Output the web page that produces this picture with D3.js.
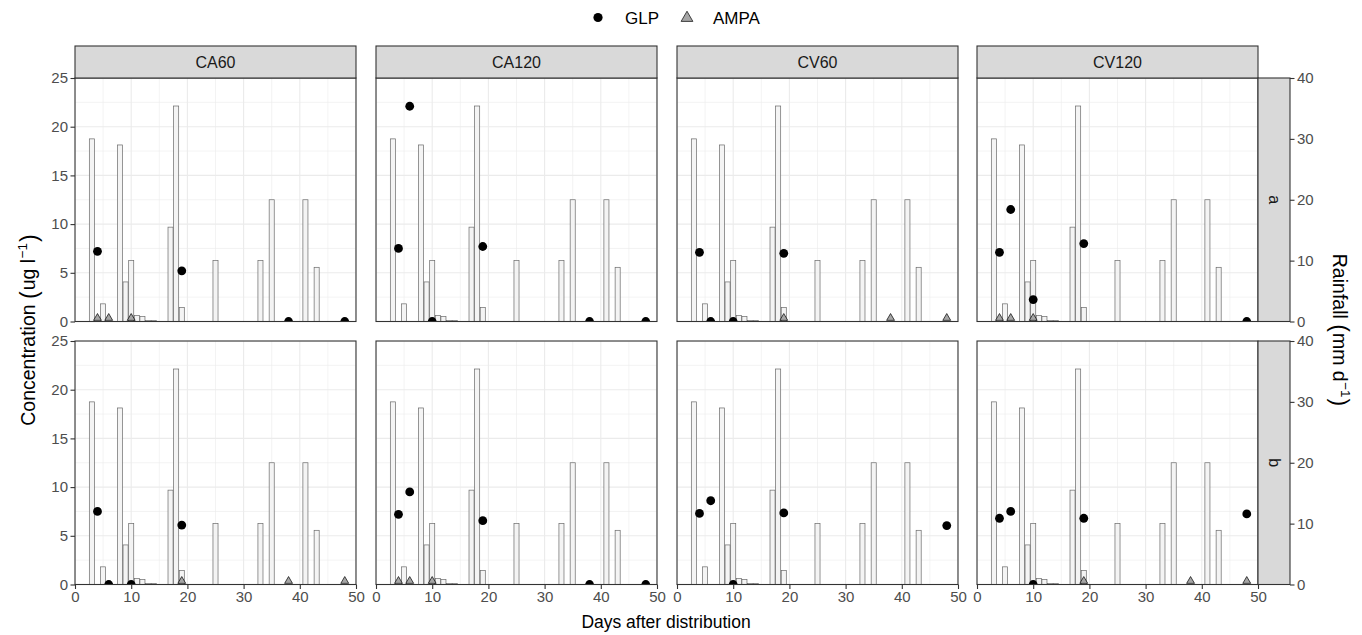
<!DOCTYPE html>
<html>
<head>
<meta charset="utf-8">
<script src="https://cdn.jsdelivr.net/npm/d3@7"></script>
<style>
  body { margin: 0; background: #fff; }
  svg { display: block; font-family: "Liberation Sans", Arial, Helvetica, sans-serif; }
</style>
</head>
<body>
<svg id="chart" width="1362" height="635"></svg>
<script>
// ---------- DATA ----------
const treatments = ["CA60", "CA120", "CV60", "CV120"];
const reps = ["a", "b"];
const xTicks = [0, 10, 20, 30, 40, 50];
const concTicks = [0, 5, 10, 15, 20, 25];
const rainTicks = [0, 10, 20, 30, 40];

// Daily rainfall (mm/d), same for every panel
const rainDays = [3, 5, 8, 9, 10, 11, 12, 13, 14, 17, 18, 19, 25, 33, 35, 41, 43];
const rainMm   = [30, 2.9, 29, 6.5, 10, 1.0, 0.8, 0.15, 0.15, 15.5, 35.4, 2.3, 10, 10, 20, 20, 8.9];

// Sampling days
const sampleDays = [4, 6, 10, 19, 38, 48];

// GLP concentration (ug/l), per treatment, row a
const glp_a_CA60  = [7.2, null, null, 5.2, 0, 0];
const glp_a_CA120 = [7.5, 22.1, 0, 7.7, 0, 0];
const glp_a_CV60  = [7.1, 0, 0, 7.0, null, null];
const glp_a_CV120 = [7.1, 11.5, 2.25, 8.0, null, 0];
// row b
const glp_b_CA60  = [7.5, 0, 0, 6.1, null, null];
const glp_b_CA120 = [7.2, 9.5, null, 6.55, 0, 0];
const glp_b_CV60  = [7.3, 8.6, 0, 7.35, null, 6.05];
const glp_b_CV120 = [6.8, 7.5, 0, 6.8, null, 7.25];

// AMPA concentration (ug/l)
const ampa_a_CA60  = [0.35, 0.35, 0.35, null, null, null];
const ampa_a_CA120 = [null, null, null, null, null, null];
const ampa_a_CV60  = [null, null, null, 0.35, 0.35, 0.35];
const ampa_a_CV120 = [0.35, 0.35, 0.35, null, null, null];
const ampa_b_CA60  = [null, null, null, 0.35, 0.35, 0.35];
const ampa_b_CA120 = [0.35, 0.35, 0.35, null, null, null];
const ampa_b_CV60  = [null, null, null, null, null, null];
const ampa_b_CV120 = [null, null, null, 0.35, 0.35, 0.35];

const glpSeries = {
  a: [glp_a_CA60, glp_a_CA120, glp_a_CV60, glp_a_CV120],
  b: [glp_b_CA60, glp_b_CA120, glp_b_CV60, glp_b_CV120]
};
const ampaSeries = {
  a: [ampa_a_CA60, ampa_a_CA120, ampa_a_CV60, ampa_a_CV120],
  b: [ampa_b_CA60, ampa_b_CA120, ampa_b_CV60, ampa_b_CV120]
};

// ---------- LAYOUT ----------
const svg = d3.select("#chart");
const panelLefts = [75, 376, 677, 977];
const panelW = 281;
const rowTops = [78, 341];
const panelH = 243.5;
const stripTop = 46, stripH = 32;
const rStripX = 1258, rStripW = 32;

const x = d3.scaleLinear().domain([0, 50]).range([0, panelW]);
const yC = d3.scaleLinear().domain([0, 25]).range([panelH, 0]);
const yR = d3.scaleLinear().domain([0, 40]).range([panelH, 0]);

const textCol = "#4d4d4d";
const tickCol = "#333333";
const tickFont = 15;

const defs = svg.append("defs");
defs.append("clipPath").attr("id", "pclip")
  .append("rect").attr("x", 0).attr("y", 0).attr("width", panelW).attr("height", panelH);

const triPath = d3.symbol(d3.symbolTriangle, 27)();
const triLegend = d3.symbol(d3.symbolTriangle, 60)();

function styleAxis(ax) {
  ax.select(".domain").remove();
  ax.selectAll("line").attr("stroke", tickCol).attr("stroke-width", 1.1);
  ax.selectAll("text").attr("font-size", tickFont).attr("fill", textCol)
    .attr("font-family", "Liberation Sans, Arial, sans-serif");
}

reps.forEach((rep, ri) => {
  treatments.forEach((tr, ti) => {
    const g = svg.append("g").attr("transform", `translate(${panelLefts[ti]},${rowTops[ri]})`);
    g.append("rect").attr("width", panelW).attr("height", panelH).attr("fill", "#fff");
    const inner = g.append("g").attr("clip-path", "url(#pclip)");
    const minorX = d3.range(5, 50, 10);
    const minorY = d3.range(2.5, 25, 5);
    inner.selectAll(".mx").data(minorX).join("line")
      .attr("x1", d => x(d)).attr("x2", d => x(d)).attr("y1", 0).attr("y2", panelH)
      .attr("stroke", "#ebebeb").attr("stroke-width", 0.6);
    inner.selectAll(".my").data(minorY).join("line")
      .attr("y1", d => yC(d)).attr("y2", d => yC(d)).attr("x1", 0).attr("x2", panelW)
      .attr("stroke", "#ebebeb").attr("stroke-width", 0.6);
    inner.selectAll(".Mx").data(xTicks).join("line")
      .attr("x1", d => x(d)).attr("x2", d => x(d)).attr("y1", 0).attr("y2", panelH)
      .attr("stroke", "#ebebeb").attr("stroke-width", 1.1);
    inner.selectAll(".My").data(concTicks).join("line")
      .attr("y1", d => yC(d)).attr("y2", d => yC(d)).attr("x1", 0).attr("x2", panelW)
      .attr("stroke", "#ebebeb").attr("stroke-width", 1.1);
    // rainfall bars
    const bw = x(0.9) - x(0);
    inner.selectAll(".bar").data(rainDays.map((d, i) => ({ d, v: rainMm[i] }))).join("rect")
      .attr("x", p => x(p.d) - bw / 2).attr("width", bw)
      .attr("y", p => yR(p.v)).attr("height", p => yR(0) - yR(p.v))
      .attr("fill", "#f2f2f2").attr("fill-opacity", 0.85)
      .attr("stroke", "#6a6a6a").attr("stroke-width", 0.7);
    // GLP points
    const glp = glpSeries[rep][ti].map((v, i) => ({ d: sampleDays[i], v })).filter(p => p.v !== null);
    inner.selectAll(".glp").data(glp).join("circle")
      .attr("cx", p => x(p.d)).attr("cy", p => yC(p.v)).attr("r", 4.4)
      .attr("fill", "#000");
    // AMPA points
    const ampa = ampaSeries[rep][ti].map((v, i) => ({ d: sampleDays[i], v })).filter(p => p.v !== null);
    inner.selectAll(".ampa").data(ampa).join("path")
      .attr("d", triPath)
      .attr("transform", p => `translate(${x(p.d)},${yC(p.v)})`)
      .attr("fill", "#a6a6a6").attr("stroke", "#000").attr("stroke-width", 0.7);
    g.append("rect").attr("width", panelW).attr("height", panelH)
      .attr("fill", "none").attr("stroke", tickCol).attr("stroke-width", 1.1);

    if (ri === 0) {
      const s = svg.append("g").attr("transform", `translate(${panelLefts[ti]},${stripTop})`);
      s.append("rect").attr("width", panelW).attr("height", stripH)
        .attr("fill", "#d9d9d9").attr("stroke", tickCol).attr("stroke-width", 1.1);
      s.append("text").attr("x", panelW / 2).attr("y", stripH / 2 + 5.5)
        .attr("text-anchor", "middle").attr("font-size", 16).attr("fill", "#1a1a1a").text(tr);
    }
    if (ti === 0) {
      const ax = g.append("g").call(d3.axisLeft(yC).tickValues(concTicks).tickSize(4.5).tickPadding(2.5).tickFormat(d3.format("d")));
      styleAxis(ax);
    }
    if (ri === 1) {
      const ax = g.append("g").attr("transform", `translate(0,${panelH})`)
        .call(d3.axisBottom(x).tickValues(xTicks).tickSize(4.5).tickPadding(2).tickFormat(d3.format("d")));
      styleAxis(ax);
    }
  });
  const rs = svg.append("g").attr("transform", `translate(${rStripX},${rowTops[ri]})`);
  rs.append("rect").attr("width", rStripW).attr("height", panelH)
    .attr("fill", "#d9d9d9").attr("stroke", tickCol).attr("stroke-width", 1.1);
  rs.append("text").attr("transform", `translate(${rStripW / 2 - 5.5},${panelH / 2}) rotate(90)`)
    .attr("text-anchor", "middle").attr("font-size", 16).attr("fill", "#1a1a1a").text(rep);
  const ra = svg.append("g").attr("transform", `translate(${rStripX + rStripW},${rowTops[ri]})`)
    .call(d3.axisRight(yR).tickValues(rainTicks).tickSize(4.5).tickPadding(2.5).tickFormat(d3.format("d")));
  styleAxis(ra);
});

// axis titles (plotmath-like, with larger brackets)
function mathTitle(sel, main, unit) {
  sel.append("tspan").text(main + " ");
  sel.append("tspan").attr("font-size", 23).attr("dy", 1.5).text("(");
  sel.append("tspan").attr("dy", -1.5).attr("dx", 1).text(unit);
  sel.append("tspan").attr("font-size", 13.5).attr("dy", -8).attr("dx", 0.5).text("\u22121");
  sel.append("tspan").attr("font-size", 23).attr("dy", 9.5).attr("dx", 1).text(")");
}
const lt = svg.append("text").attr("transform", "translate(35,330) rotate(-90)")
  .attr("text-anchor", "middle").attr("font-size", 19.5).attr("fill", "#000");
mathTitle(lt, "Concentration", "ug l");

const rt = svg.append("text").attr("transform", "translate(1333,330) rotate(90)")
  .attr("text-anchor", "middle").attr("font-size", 19.5).attr("fill", "#000");
mathTitle(rt, "Rainfall", "mm d");

svg.append("text").attr("x", 666).attr("y", 628).attr("text-anchor", "middle")
  .attr("font-size", 17.5).attr("fill", "#000").text("Days after distribution");

// legend
const lg = svg.append("g");
lg.append("circle").attr("cx", 598).attr("cy", 17.5).attr("r", 4.6).attr("fill", "#000");
lg.append("text").attr("x", 625).attr("y", 23.5).attr("font-size", 17).attr("fill", "#000").text("GLP");
lg.append("path").attr("d", triLegend).attr("transform", "translate(687,18)")
  .attr("fill", "#a6a6a6").attr("stroke", "#000").attr("stroke-width", 0.7);
lg.append("text").attr("x", 713).attr("y", 23.5).attr("font-size", 17).attr("fill", "#000").text("AMPA");
</script>
</body>
</html>
